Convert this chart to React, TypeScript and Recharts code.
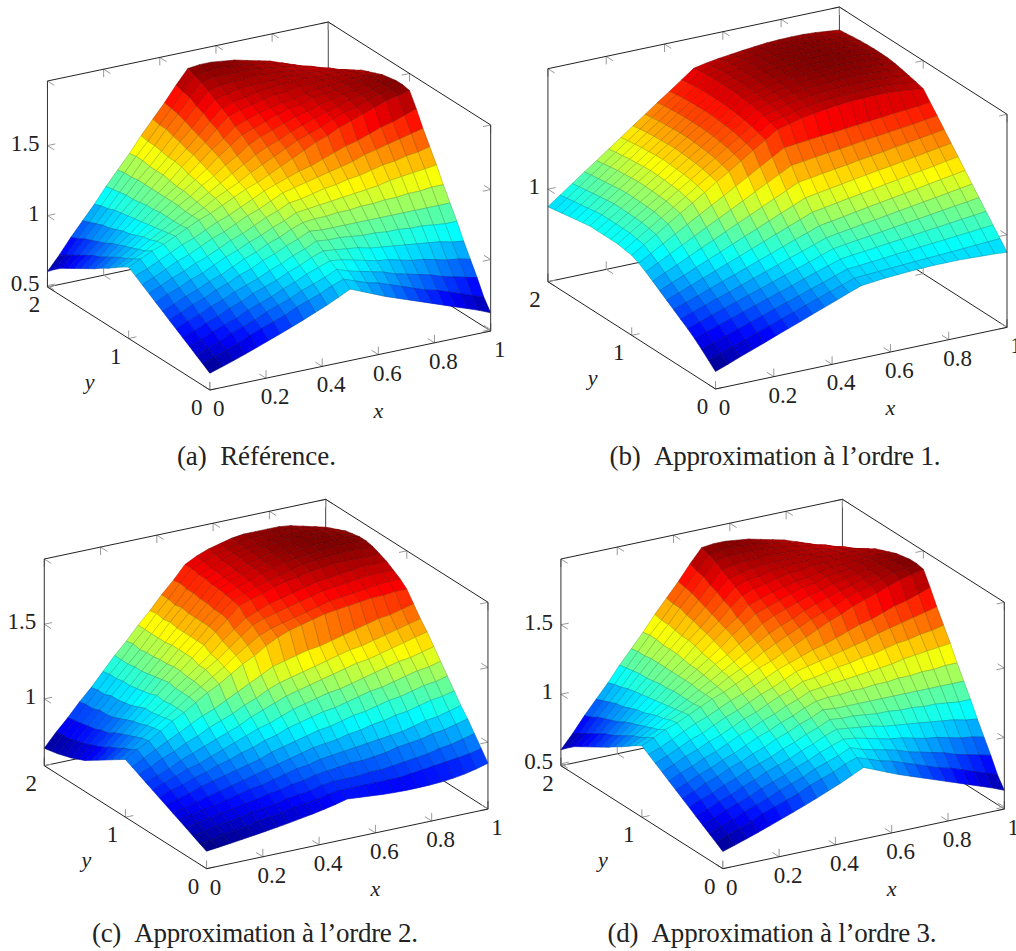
import React from "react";
import { ScatterChart, Scatter, XAxis, YAxis } from "recharts";

// u(x, y). Rows go y = 0 .. 2 (step 1/12), columns x = 0 .. 1 (step 1/24).
const referenceRows: number[][] = [
  [.61,.636,.664,.693,.723,.754,.785,.817,.85,.885,.92,.96,1.00,.965,.93,.895,.865,.835,.805,.775,.745,.715,.685,.655,.62],
  [.643,.68,.71,.74,.78,.81,.84,.87,.91,.94,.97,1.01,1.04,1.01,.98,.96,.93,.90,.87,.84,.82,.79,.76,.73,.70],
  [.675,.71,.74,.78,.81,.84,.88,.91,.94,.98,1.01,1.04,1.08,1.05,1.03,1.01,.99,.96,.94,.92,.90,.87,.85,.83,.81],
  [.708,.74,.78,.81,.84,.88,.91,.94,.98,1.01,1.05,1.08,1.11,1.10,1.08,1.06,1.04,1.03,1.01,.99,.98,.96,.94,.93,.91],
  [.74,.77,.81,.84,.88,.91,.95,.98,1.01,1.05,1.08,1.12,1.15,1.14,1.13,1.12,1.10,1.09,1.08,1.07,1.06,1.05,1.04,1.02,1.01],
  [.773,.81,.84,.88,.91,.95,.98,1.01,1.05,1.08,1.12,1.15,1.19,1.18,1.18,1.17,1.16,1.16,1.15,1.15,1.14,1.14,1.13,1.12,1.12],
  [.805,.84,.88,.91,.95,.98,1.02,1.05,1.09,1.12,1.16,1.19,1.23,1.22,1.22,1.22,1.22,1.22,1.22,1.22,1.22,1.22,1.22,1.22,1.22],
  [.838,.87,.91,.94,.98,1.01,1.05,1.09,1.12,1.16,1.19,1.23,1.26,1.27,1.27,1.28,1.28,1.29,1.29,1.30,1.30,1.31,1.31,1.32,1.32],
  [.87,.91,.94,.98,1.01,1.05,1.09,1.12,1.16,1.19,1.23,1.26,1.30,1.31,1.32,1.33,1.34,1.35,1.36,1.37,1.39,1.40,1.41,1.42,1.43],
  [.903,.94,.98,1.01,1.05,1.08,1.12,1.16,1.19,1.23,1.27,1.30,1.34,1.35,1.37,1.39,1.40,1.42,1.43,1.45,1.47,1.48,1.50,1.51,1.53],
  [.935,.97,1.01,1.05,1.08,1.12,1.16,1.19,1.23,1.27,1.30,1.34,1.38,1.40,1.42,1.44,1.46,1.48,1.50,1.53,1.55,1.57,1.59,1.61,1.63],
  [.968,1.00,1.04,1.08,1.12,1.15,1.19,1.23,1.26,1.30,1.34,1.38,1.41,1.44,1.47,1.49,1.52,1.55,1.58,1.60,1.63,1.66,1.68,1.71,1.74],
  [1.00,1.04,1.08,1.11,1.15,1.19,1.23,1.26,1.30,1.34,1.38,1.41,1.45,1.49,1.53,1.57,1.61,1.64,1.68,1.71,1.74,1.77,1.80,1.82,1.84],
  [.97,1.01,1.05,1.10,1.14,1.18,1.23,1.27,1.32,1.36,1.40,1.45,1.49,1.53,1.57,1.61,1.64,1.67,1.71,1.74,1.76,1.79,1.82,1.83,1.85],
  [.935,.98,1.03,1.08,1.13,1.18,1.23,1.28,1.33,1.38,1.43,1.48,1.53,1.57,1.60,1.64,1.67,1.70,1.73,1.75,1.78,1.80,1.82,1.84,1.85],
  [.90,.96,1.01,1.07,1.12,1.18,1.24,1.29,1.35,1.40,1.46,1.51,1.57,1.61,1.64,1.67,1.70,1.72,1.75,1.77,1.79,1.80,1.82,1.83,1.84],
  [.87,.93,.99,1.05,1.11,1.18,1.24,1.30,1.36,1.42,1.49,1.55,1.61,1.64,1.67,1.70,1.73,1.74,1.77,1.78,1.79,1.81,1.82,1.83,1.83],
  [.835,.90,.97,1.03,1.10,1.17,1.24,1.30,1.37,1.44,1.51,1.57,1.64,1.67,1.70,1.72,1.74,1.75,1.77,1.79,1.79,1.80,1.81,1.81,1.81],
  [.805,.87,.95,1.02,1.09,1.17,1.24,1.31,1.39,1.46,1.53,1.61,1.68,1.71,1.73,1.75,1.77,1.77,1.79,1.79,1.80,1.80,1.80,1.80,1.79],
  [.775,.85,.92,1.00,1.08,1.16,1.24,1.32,1.40,1.47,1.55,1.63,1.71,1.74,1.75,1.77,1.78,1.79,1.79,1.80,1.79,1.79,1.79,1.78,1.77],
  [.745,.82,.90,.98,1.07,1.15,1.24,1.32,1.40,1.49,1.57,1.66,1.74,1.76,1.78,1.79,1.79,1.79,1.80,1.79,1.79,1.78,1.77,1.76,1.74],
  [.715,.79,.88,.97,1.06,1.15,1.24,1.32,1.41,1.50,1.59,1.68,1.77,1.79,1.80,1.80,1.81,1.80,1.80,1.79,1.78,1.76,1.75,1.73,1.71],
  [.685,.76,.86,.95,1.04,1.14,1.23,1.33,1.42,1.52,1.61,1.71,1.80,1.82,1.82,1.82,1.82,1.81,1.80,1.79,1.77,1.75,1.73,1.71,1.68],
  [.645,.73,.83,.93,1.03,1.13,1.23,1.33,1.42,1.52,1.62,1.72,1.82,1.83,1.84,1.83,1.83,1.81,1.80,1.78,1.76,1.73,1.71,1.68,1.65],
  [.60,.70,.81,.91,1.01,1.12,1.22,1.32,1.43,1.53,1.63,1.74,1.84,1.85,1.85,1.84,1.83,1.81,1.79,1.77,1.74,1.71,1.68,1.65,1.61],
];

const order1Rows: number[][] = [
  [.70,.718,.737,.755,.773,.792,.81,.828,.847,.865,.883,.902,.92,.925,.93,.933,.936,.938,.94,.94,.94,.938,.936,.934,.93],
  [.727,.744,.761,.778,.795,.812,.83,.847,.864,.881,.898,.915,.932,.935,.938,.941,.944,.947,.95,.952,.955,.958,.961,.964,.967],
  [.753,.769,.786,.802,.819,.835,.852,.868,.884,.901,.917,.934,.95,.954,.959,.963,.968,.972,.977,.981,.985,.99,.994,.999,1.003],
  [.778,.794,.81,.827,.843,.859,.875,.891,.907,.924,.94,.956,.972,.978,.983,.989,.995,1.0,1.006,1.012,1.017,1.023,1.029,1.034,1.04],
  [.80,.816,.833,.849,.865,.882,.898,.914,.931,.947,.963,.98,.996,1.003,1.01,1.016,1.023,1.03,1.037,1.043,1.05,1.057,1.064,1.07,1.077],
  [.82,.837,.854,.871,.887,.904,.921,.938,.955,.972,.988,1.005,1.022,1.03,1.037,1.045,1.052,1.06,1.068,1.075,1.083,1.09,1.098,1.106,1.113],
  [.84,.858,.875,.893,.911,.928,.946,.964,.981,.999,1.017,1.034,1.052,1.06,1.068,1.077,1.085,1.093,1.101,1.109,1.117,1.126,1.134,1.142,1.15],
  [.86,.879,.898,.917,.936,.955,.974,.993,1.012,1.031,1.05,1.069,1.088,1.096,1.105,1.113,1.121,1.129,1.138,1.146,1.154,1.162,1.17,1.179,1.187],
  [.88,.901,.921,.942,.963,.983,1.004,1.025,1.045,1.066,1.087,1.107,1.128,1.136,1.144,1.152,1.16,1.168,1.176,1.183,1.191,1.199,1.207,1.215,1.223],
  [.90,.923,.945,.968,.991,1.013,1.036,1.059,1.081,1.104,1.127,1.149,1.172,1.179,1.187,1.194,1.201,1.209,1.216,1.223,1.231,1.238,1.245,1.253,1.26],
  [.92,.945,.97,.996,1.021,1.046,1.071,1.096,1.121,1.147,1.172,1.197,1.222,1.228,1.235,1.241,1.247,1.253,1.26,1.266,1.272,1.278,1.284,1.291,1.297],
  [.937,.965,.993,1.022,1.05,1.078,1.106,1.134,1.162,1.191,1.219,1.247,1.275,1.28,1.285,1.29,1.294,1.299,1.304,1.309,1.314,1.319,1.323,1.328,1.333],
  [.95,.982,1.013,1.045,1.077,1.108,1.14,1.172,1.203,1.235,1.267,1.298,1.33,1.342,1.354,1.363,1.37,1.376,1.38,1.382,1.384,1.383,1.38,1.376,1.37],
  [.955,.987,1.019,1.051,1.083,1.115,1.148,1.18,1.212,1.244,1.276,1.308,1.34,1.352,1.363,1.373,1.38,1.385,1.389,1.391,1.393,1.392,1.389,1.384,1.378],
  [.96,.993,1.025,1.058,1.09,1.123,1.155,1.188,1.22,1.253,1.285,1.318,1.35,1.362,1.373,1.382,1.389,1.394,1.397,1.399,1.4,1.399,1.396,1.391,1.385],
  [.96,.993,1.026,1.059,1.092,1.125,1.159,1.192,1.225,1.258,1.291,1.324,1.357,1.369,1.38,1.389,1.396,1.401,1.404,1.406,1.407,1.406,1.403,1.398,1.392],
  [.96,.994,1.027,1.061,1.094,1.128,1.161,1.195,1.228,1.262,1.295,1.329,1.362,1.374,1.385,1.394,1.401,1.406,1.409,1.411,1.412,1.411,1.408,1.404,1.398],
  [.96,.994,1.028,1.061,1.095,1.129,1.163,1.197,1.231,1.264,1.298,1.332,1.366,1.378,1.389,1.398,1.405,1.41,1.414,1.416,1.417,1.415,1.412,1.408,1.402],
  [.96,.994,1.028,1.062,1.096,1.13,1.165,1.199,1.233,1.267,1.301,1.335,1.369,1.381,1.392,1.401,1.407,1.412,1.416,1.418,1.419,1.417,1.414,1.41,1.403],
  [.955,.99,1.024,1.059,1.093,1.128,1.163,1.197,1.232,1.266,1.301,1.335,1.37,1.382,1.393,1.402,1.408,1.413,1.416,1.418,1.419,1.417,1.414,1.41,1.403],
  [.95,.985,1.02,1.055,1.09,1.125,1.16,1.195,1.23,1.265,1.30,1.335,1.37,1.382,1.393,1.401,1.408,1.413,1.416,1.418,1.418,1.416,1.413,1.409,1.402],
  [.945,.98,1.016,1.051,1.087,1.122,1.158,1.193,1.228,1.264,1.299,1.335,1.37,1.382,1.392,1.401,1.407,1.412,1.415,1.417,1.417,1.415,1.412,1.408,1.40],
  [.94,.976,1.011,1.047,1.083,1.118,1.154,1.19,1.225,1.261,1.297,1.332,1.368,1.38,1.39,1.398,1.405,1.41,1.413,1.414,1.414,1.412,1.409,1.404,1.397],
  [.935,.971,1.007,1.043,1.078,1.114,1.15,1.186,1.222,1.258,1.293,1.329,1.365,1.376,1.387,1.395,1.401,1.406,1.409,1.41,1.41,1.408,1.404,1.4,1.393],
  [.93,.966,1.002,1.038,1.073,1.109,1.145,1.181,1.217,1.253,1.288,1.324,1.36,1.37,1.378,1.384,1.39,1.395,1.40,1.402,1.403,1.403,1.40,1.395,1.39],
];

const order2Rows: number[][] = [
  [.67,.679,.688,.698,.708,.719,.73,.742,.755,.768,.783,.80,.82,.813,.807,.80,.796,.794,.794,.796,.80,.808,.82,.838,.86],
  [.692,.70,.72,.73,.74,.76,.77,.78,.80,.81,.82,.84,.85,.85,.85,.85,.85,.85,.86,.87,.88,.89,.90,.91,.93],
  [.715,.73,.75,.76,.77,.79,.80,.81,.83,.84,.85,.87,.88,.88,.88,.89,.89,.90,.91,.92,.93,.95,.96,.98,1.00],
  [.737,.76,.77,.79,.80,.82,.83,.85,.86,.88,.89,.91,.92,.93,.94,.94,.95,.96,.98,.99,1.00,1.02,1.03,1.05,1.07],
  [.76,.78,.80,.81,.83,.85,.87,.88,.90,.92,.94,.95,.97,.98,.99,1.00,1.01,1.02,1.03,1.04,1.06,1.08,1.09,1.11,1.13],
  [.782,.80,.82,.84,.86,.88,.90,.92,.94,.96,.98,1.00,1.02,1.03,1.04,1.06,1.07,1.09,1.10,1.12,1.13,1.15,1.17,1.18,1.20],
  [.805,.83,.85,.88,.90,.92,.94,.96,.98,1.01,1.03,1.05,1.07,1.09,1.10,1.12,1.14,1.15,1.17,1.19,1.20,1.22,1.24,1.25,1.27],
  [.827,.86,.88,.91,.93,.96,.98,1.01,1.03,1.06,1.08,1.11,1.13,1.15,1.17,1.18,1.20,1.22,1.24,1.25,1.27,1.29,1.31,1.32,1.34],
  [.85,.88,.91,.94,.96,.99,1.02,1.05,1.08,1.11,1.13,1.16,1.19,1.21,1.23,1.25,1.26,1.28,1.30,1.32,1.34,1.36,1.37,1.39,1.41],
  [.872,.90,.93,.97,1.00,1.03,1.06,1.09,1.12,1.16,1.19,1.22,1.25,1.27,1.29,1.31,1.33,1.35,1.37,1.38,1.40,1.42,1.44,1.46,1.48],
  [.895,.93,.97,1.00,1.04,1.07,1.11,1.14,1.17,1.21,1.24,1.28,1.31,1.33,1.35,1.37,1.39,1.41,1.43,1.44,1.46,1.48,1.50,1.52,1.54],
  [.917,.96,1.00,1.04,1.08,1.12,1.16,1.19,1.23,1.27,1.31,1.35,1.39,1.41,1.43,1.45,1.46,1.48,1.50,1.52,1.54,1.56,1.57,1.59,1.61],
  [.94,.99,1.03,1.08,1.13,1.17,1.22,1.27,1.31,1.36,1.41,1.45,1.50,1.54,1.57,1.59,1.61,1.63,1.64,1.65,1.66,1.67,1.67,1.68,1.68],
  [.91,.96,1.02,1.07,1.12,1.17,1.23,1.28,1.33,1.38,1.44,1.49,1.54,1.57,1.59,1.61,1.63,1.65,1.67,1.68,1.69,1.70,1.71,1.72,1.72],
  [.88,.94,1.00,1.06,1.11,1.17,1.23,1.29,1.35,1.40,1.46,1.52,1.58,1.61,1.63,1.65,1.67,1.69,1.71,1.72,1.73,1.74,1.75,1.75,1.75],
  [.85,.91,.98,1.04,1.10,1.16,1.23,1.29,1.35,1.41,1.48,1.54,1.60,1.63,1.66,1.68,1.70,1.72,1.74,1.75,1.76,1.77,1.78,1.78,1.78],
  [.82,.89,.96,1.03,1.10,1.17,1.24,1.30,1.37,1.44,1.51,1.58,1.65,1.68,1.70,1.73,1.75,1.76,1.78,1.79,1.80,1.80,1.80,1.80,1.80],
  [.79,.86,.94,1.01,1.08,1.15,1.23,1.30,1.37,1.44,1.52,1.59,1.66,1.69,1.72,1.74,1.76,1.78,1.80,1.81,1.82,1.82,1.83,1.82,1.82],
  [.76,.84,.91,.99,1.06,1.14,1.22,1.29,1.37,1.44,1.52,1.59,1.67,1.70,1.73,1.76,1.78,1.80,1.81,1.82,1.83,1.84,1.84,1.84,1.83],
  [.74,.82,.90,.97,1.05,1.13,1.21,1.29,1.37,1.44,1.52,1.60,1.68,1.71,1.74,1.77,1.79,1.81,1.82,1.83,1.84,1.84,1.84,1.84,1.83],
  [.72,.80,.88,.96,1.04,1.12,1.20,1.28,1.36,1.44,1.52,1.60,1.68,1.71,1.74,1.77,1.79,1.81,1.82,1.83,1.84,1.84,1.84,1.83,1.82],
  [.705,.79,.87,.96,1.04,1.12,1.20,1.28,1.36,1.45,1.53,1.61,1.69,1.72,1.75,1.78,1.80,1.82,1.83,1.84,1.84,1.84,1.83,1.82,1.81],
  [.69,.77,.86,.94,1.02,1.11,1.19,1.27,1.36,1.44,1.52,1.61,1.69,1.72,1.75,1.78,1.80,1.81,1.82,1.83,1.83,1.83,1.82,1.81,1.79],
  [.68,.77,.85,.94,1.02,1.11,1.19,1.28,1.36,1.45,1.53,1.62,1.70,1.73,1.76,1.78,1.80,1.82,1.82,1.83,1.83,1.82,1.81,1.79,1.77],
  [.67,.76,.84,.93,1.01,1.10,1.19,1.27,1.36,1.44,1.53,1.61,1.70,1.74,1.77,1.79,1.81,1.82,1.82,1.82,1.82,1.81,1.79,1.77,1.75],
];

// order 3 is indistinguishable from the reference at this resolution
const order3Rows: number[][] = referenceRows;

const xTicks = [0, 0.2, 0.4, 0.6, 0.8, 1];
const yTicks = [0, 1, 2];

const SERIF = "'Liberation Serif', serif";
const WIDTH = 1016;
const HEIGHT = 951;
const TICK_PX = 8;

type Panel = {
  rows: number[][];
  zTicks: number[];
  caption: string;
  captionX: number;
  captionY: number;
  captionLen: number;
  front: [number, number];
  xVec: [number, number];
  yVec: [number, number];
  zBase: number;
  zScale: number;
  boxH: number;
};

const panels: Panel[] = [
  { rows: referenceRows, zTicks: [0.5, 1, 1.5], caption: "(a)\u2002Référence.", captionX: 177, captionY: 465, captionLen: 159,
    front: [210, 390], xVec: [281, -59], yVec: [-81.25, -51.5], zBase: 0.49, zScale: 140, boxH: 206 },
  { rows: order1Rows, zTicks: [1], caption: "(b)\u2002Approximation à l’ordre 1.", captionX: 610, captionY: 465, captionLen: 331,
    front: [716, 389], xVec: [291.7, -61.7], yVec: [-83.85, -53.65], zBase: 0.63, zScale: 250, boxH: 213 },
  { rows: order2Rows, zTicks: [1, 1.5], caption: "(c)\u2002Approximation à l’ordre 2.", captionX: 92, captionY: 942, captionLen: 326,
    front: [206.7, 868.7], xVec: [281.6, -59.7], yVec: [-81.2, -51.5], zBase: 0.553, zScale: 149.4, boxH: 206.7 },
  { rows: order3Rows, zTicks: [0.5, 1, 1.5], caption: "(d)\u2002Approximation à l’ordre 3.", captionX: 608, captionY: 942, captionLen: 329,
    front: [723.3, 868.7], xVec: [281.7, -59.7], yVec: [-81, -51.5], zBase: 0.486, zScale: 139, boxH: 206.7 },
];

// pgfplots "jet"
const jetStops: [number, number[]][] = [
  [0, [0, 0, 128]],
  [1 / 8, [0, 0, 255]],
  [3 / 8, [0, 255, 255]],
  [5 / 8, [255, 255, 0]],
  [7 / 8, [255, 0, 0]],
  [1, [128, 0, 0]],
];

function jet(t: number): number[] {
  const v = Math.max(0, Math.min(1, t));
  for (let i = 1; i < jetStops.length; i++) {
    if (v <= jetStops[i][0]) {
      const [p0, c0] = jetStops[i - 1];
      const [p1, c1] = jetStops[i];
      const f = (v - p0) / (p1 - p0);
      return c0.map((c, k) => c + (c1[k] - c) * f);
    }
  }
  return jetStops[jetStops.length - 1][1];
}

const rgb = (c: number[], k = 1) =>
  `rgb(${Math.round(c[0] * k)},${Math.round(c[1] * k)},${Math.round(c[2] * k)})`;

// plot position of (x, y, h) where h is the height in pixels above the floor
function project(p: Panel, x: number, y: number, h = 0): [number, number] {
  return [
    p.front[0] + p.xVec[0] * x + p.yVec[0] * y,
    p.front[1] + p.xVec[1] * x + p.yVec[1] * y - h,
  ];
}

const zHeight = (p: Panel, z: number) => (z - p.zBase) * p.zScale;

function buildFacets(p: Panel) {
  const ny = p.rows.length - 1;
  const nx = p.rows[0].length - 1;
  const all = p.rows.flat();
  const zMin = Math.min(...all);
  const zMax = Math.max(...all);
  const out: any[] = [];
  // back corner first so nearer facets paint over
  for (let j = ny - 1; j >= 0; j--) {
    for (let i = nx - 1; i >= 0; i--) {
      const corners: [number, number][] = [[i, j], [i + 1, j], [i + 1, j + 1], [i, j + 1]];
      const zs = corners.map(([a, b]) => p.rows[b][a]);
      const pts = corners.map(([a, b], k) => project(p, a / nx, (2 * b) / ny, zHeight(p, zs[k])));
      const px = pts.reduce((s, q) => s + q[0], 0) / 4;
      const py = pts.reduce((s, q) => s + q[1], 0) / 4;
      const mean = zs.reduce((s, z) => s + z, 0) / 4;
      const col = jet((mean - zMin) / (zMax - zMin));
      out.push({
        px,
        py,
        offsets: pts.map((q) => [q[0] - px, q[1] - py]),
        fill: rgb(col),
        stroke: rgb(col, 0.72),
      });
    }
  }
  return out;
}

const seg = (a: [number, number], b: [number, number], stroke: string, w: number) => ({
  px: a[0],
  py: a[1],
  dx: b[0] - a[0],
  dy: b[1] - a[1],
  stroke,
  w,
});

function unit(v: [number, number]): [number, number] {
  const l = Math.hypot(v[0], v[1]);
  return [(v[0] / l) * TICK_PX, (v[1] / l) * TICK_PX];
}

const TICK = "#999999";
const LINE = "#222222";

function buildBack(p: Panel) {
  const H = p.boxH;
  const out: any[] = [];
  const ux = unit(p.xVec);
  const uy = unit(p.yVec);
  const add = (a: [number, number], d: [number, number]) =>
    out.push(seg(a, [a[0] + d[0], a[1] + d[1]], TICK, 1));
  const neg = (d: [number, number]): [number, number] => [-d[0], -d[1]];
  const up: [number, number] = [0, -TICK_PX];
  const down: [number, number] = [0, TICK_PX];

  out.push(seg(project(p, 0, 2), project(p, 1, 2), LINE, 1));
  out.push(seg(project(p, 1, 2), project(p, 1, 0), LINE, 1));
  out.push(seg(project(p, 1, 2), project(p, 1, 2, H), "#444444", 1));

  xTicks.forEach((x) => {
    const f = project(p, x, 0);
    add(f, up);
    add(f, uy);
    const t = project(p, x, 2, H);
    add(t, down);
    add(t, neg(uy));
    const b = project(p, x, 2);
    add(b, up);
    add(b, neg(uy));
  });
  yTicks.forEach((y) => {
    const f = project(p, 0, y);
    add(f, up);
    add(f, ux);
    const t = project(p, 1, y, H);
    add(t, down);
    add(t, neg(ux));
    const b = project(p, 1, y);
    add(b, up);
    add(b, neg(ux));
  });
  p.zTicks.forEach((z) => {
    const h = zHeight(p, z);
    const l = project(p, 0, 2, h);
    add(l, ux);
    add(l, neg(uy));
    const r = project(p, 1, 0, h);
    add(r, neg(ux));
    add(r, uy);
  });
  return out;
}

function buildFront(p: Panel) {
  const H = p.boxH;
  return [
    seg(project(p, 0, 2), project(p, 0, 0), LINE, 1),
    seg(project(p, 0, 0), project(p, 1, 0), LINE, 1),
    seg(project(p, 0, 2), project(p, 0, 2, H), "#333333", 1),
    seg(project(p, 1, 0), project(p, 1, 0, H), "#333333", 1),
    seg(project(p, 0, 2, H), project(p, 1, 2, H), LINE, 1),
    seg(project(p, 1, 2, H), project(p, 1, 0, H), LINE, 1),
  ];
}

function buildLabels(p: Panel) {
  const out: any[] = [];
  const put = (pos: [number, number], ox: number, oy: number, text: string, extra = {}) =>
    out.push({ px: pos[0] + ox, py: pos[1] + oy, text, anchor: "middle", size: 23, ...extra });
  xTicks.forEach((x) => put(project(p, x, 0), 9, 26, String(x)));
  yTicks.forEach((y) => put(project(p, 0, y), -13, 25, String(y)));
  p.zTicks.forEach((z) =>
    put(project(p, 0, 2, zHeight(p, z)), -8, 5, String(z), { anchor: "end" })
  );
  put(project(p, 0.6, 0), 0, 63, "x", { italic: true, size: 22 });
  put(project(p, 0, 1), -39, 50, "y", { italic: true, size: 22 });
  out.push({
    px: p.captionX,
    py: p.captionY,
    text: p.caption,
    anchor: "start",
    size: 27,
    len: p.captionLen,
  });
  return out;
}

const FacetShape = (props: any) => {
  const { cx, cy, payload } = props;
  const points = payload.offsets
    .map((o: number[]) => `${(cx + o[0]).toFixed(2)},${(cy + o[1]).toFixed(2)}`)
    .join(" ");
  return (
    <polygon
      points={points}
      fill={payload.fill}
      stroke={payload.stroke}
      strokeWidth={0.6}
      strokeLinejoin="round"
    />
  );
};

const SegmentShape = (props: any) => {
  const { cx, cy, payload } = props;
  return (
    <line
      x1={cx}
      y1={cy}
      x2={cx + payload.dx}
      y2={cy + payload.dy}
      stroke={payload.stroke}
      strokeWidth={payload.w}
    />
  );
};

const LabelShape = (props: any) => {
  const { cx, cy, payload } = props;
  return (
    <text
      x={cx}
      y={cy}
      textAnchor={payload.anchor}
      fontFamily={SERIF}
      fontSize={payload.size}
      fontStyle={payload.italic ? "italic" : "normal"}
      fill="#222222"
      textLength={payload.len}
      xmlSpace="preserve"
    >
      {payload.text}
    </text>
  );
};

const backData = panels.flatMap(buildBack);
const facetData = panels.flatMap(buildFacets);
const frontData = panels.flatMap(buildFront);
const labelData = panels.flatMap(buildLabels);

export default function App() {
  return (
    <div style={{ position: "absolute", left: 0, top: 0, width: WIDTH, height: HEIGHT, background: "#fff" }}>
      <ScatterChart width={WIDTH} height={HEIGHT} margin={{ top: 0, right: 0, bottom: 0, left: 0 }}>
        <XAxis type="number" dataKey="px" domain={[0, WIDTH]} hide />
        <YAxis type="number" dataKey="py" domain={[0, HEIGHT]} reversed hide />
        <Scatter data={backData} shape={SegmentShape} isAnimationActive={false} />
        <Scatter data={facetData} shape={FacetShape} isAnimationActive={false} />
        <Scatter data={frontData} shape={SegmentShape} isAnimationActive={false} />
        <Scatter data={labelData} shape={LabelShape} isAnimationActive={false} />
      </ScatterChart>
    </div>
  );
}
